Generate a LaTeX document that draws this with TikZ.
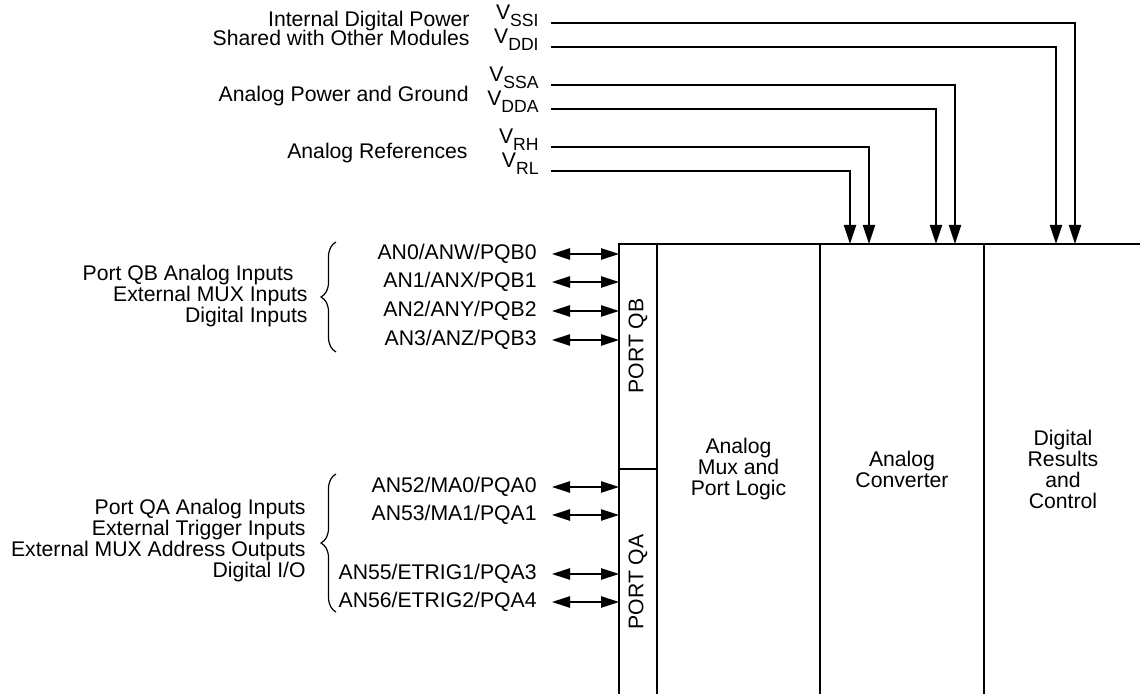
\documentclass[tikz,border=0pt]{standalone}
\usepackage{fontspec}
\setmainfont{Liberation Sans}
\usetikzlibrary{calc,arrows.meta,decorations.pathreplacing}
\newcommand{\vsub}[1]{V\raisebox{-3.7pt}{\fontsize{8.8}{8.8}\selectfont #1}}

\begin{document}
\begin{tikzpicture}[x=0.5pt, y=-0.5pt, line join=miter, font=\fontsize{10.6}{10.5}\selectfont,
	conn/.style={line width=1pt},
	tip/.style={-{Triangle[length=9.5pt,width=6pt]}},
	both/.style={{Triangle[length=9pt,width=5.6pt]}-{Triangle[length=9pt,width=5.6pt]}},
	wall/.style={line width=1.3pt},
	vlab/.style={anchor=base east, inner sep=0pt, yshift=1.75pt},
	txt/.style={anchor=base east, inner sep=0pt},
	pin/.style={anchor=east, inner sep=0pt},
	grp/.style={anchor=east, align=right, inner sep=0pt},
	blk/.style={align=center, inner sep=0pt},
	curly/.style={decorate, decoration={brace,amplitude=7.5pt}, line width=0.6pt}]
	\useasboundingbox (0,0) rectangle (1140,694);
	% Các điểm góc của khối
	\path (619,244) coordinate (TL)
	(657,244) coordinate (PR)
	(1140,244) coordinate (TR);
	% Khung khối (không có cạnh dưới, cạnh phải)
	\draw[wall] (619,694) -- (TL) -- (TR);
	\foreach \x in {657,820,984}
	\draw[wall] (\x,244) -- (\x,694);
	\draw[wall] (619,469) -- (657,469);
	% Nhãn trong các cột
	\node[rotate=90] (pqb) at (638,346) {PORT QB};
	\node[rotate=90] (pqa) at (638,582) {PORT QA};
	\node[blk] (mux) at (738.5,469) {Analog\\Mux and\\Port Logic};
	\node[blk] (conv) at (902,469) {Analog\\Converter};
	\node[blk] (dig) at (1063,469) {Digital\\Results\\and\\Control};
	% Các đường nguồn đi vào từ trên
	\foreach \n/\lbl/\y/\x in {ssi/SSI/23/1075, ddi/DDI/47/1056, ssa/SSA/85/955,
		dda/DDA/109/936, rh/RH/147/869, rl/RL/171/850} {
		\coordinate (\n) at (551,\y);
		\coordinate (\n-in) at (\x,244);
		\node[vlab] (\n-lab) at ([xshift=-6pt]\n) {\vsub{\lbl}};
		\draw[conn,tip] (\n) -| (\n-in);
	}
	% Nhãn nhóm nguồn
	\node[txt] (dpow) at (470,27) {Internal Digital Power};
	\node[txt] (shrd) at (470,46) {Shared with Other Modules};
	\node[txt] (apow) at (469,102) {Analog Power and Ground};
	\node[txt] (aref) at (468,159) {Analog References};
	% Các chân cổng QB và QA
	\foreach \y/\t in {254/{AN0/ANW/PQB0}, 282/{AN1/ANX/PQB1}, 311/{AN2/ANY/PQB2},
		340/{AN3/ANZ/PQB3}, 487/{AN52/MA0/PQA0}, 515/{AN53/MA1/PQA1},
		574/{AN55/ETRIG1/PQA3}, 602/{AN56/ETRIG2/PQA4}} {
		\node[pin] (p\y) at (537,\y) {\t};
		\draw[conn,both] ([xshift=7.5pt]p\y.east) -- (p\y.east -| TL);
	}
	% Ngoặc nhọn và mô tả nhóm chân
	\draw[curly] (336,352) -- (336,242);
	\draw[curly] (336,612) -- (336,474);
	\node[grp] (qbtxt) at (308,296) {Port QB Analog Inputs\hspace*{7pt}\\External MUX Inputs\\Digital Inputs};
	\node[grp] (qatxt) at (306,541) {Port QA Analog Inputs\\External Trigger Inputs\\External MUX Address Outputs\\Digital I/O};
\end{tikzpicture}
\end{document}
